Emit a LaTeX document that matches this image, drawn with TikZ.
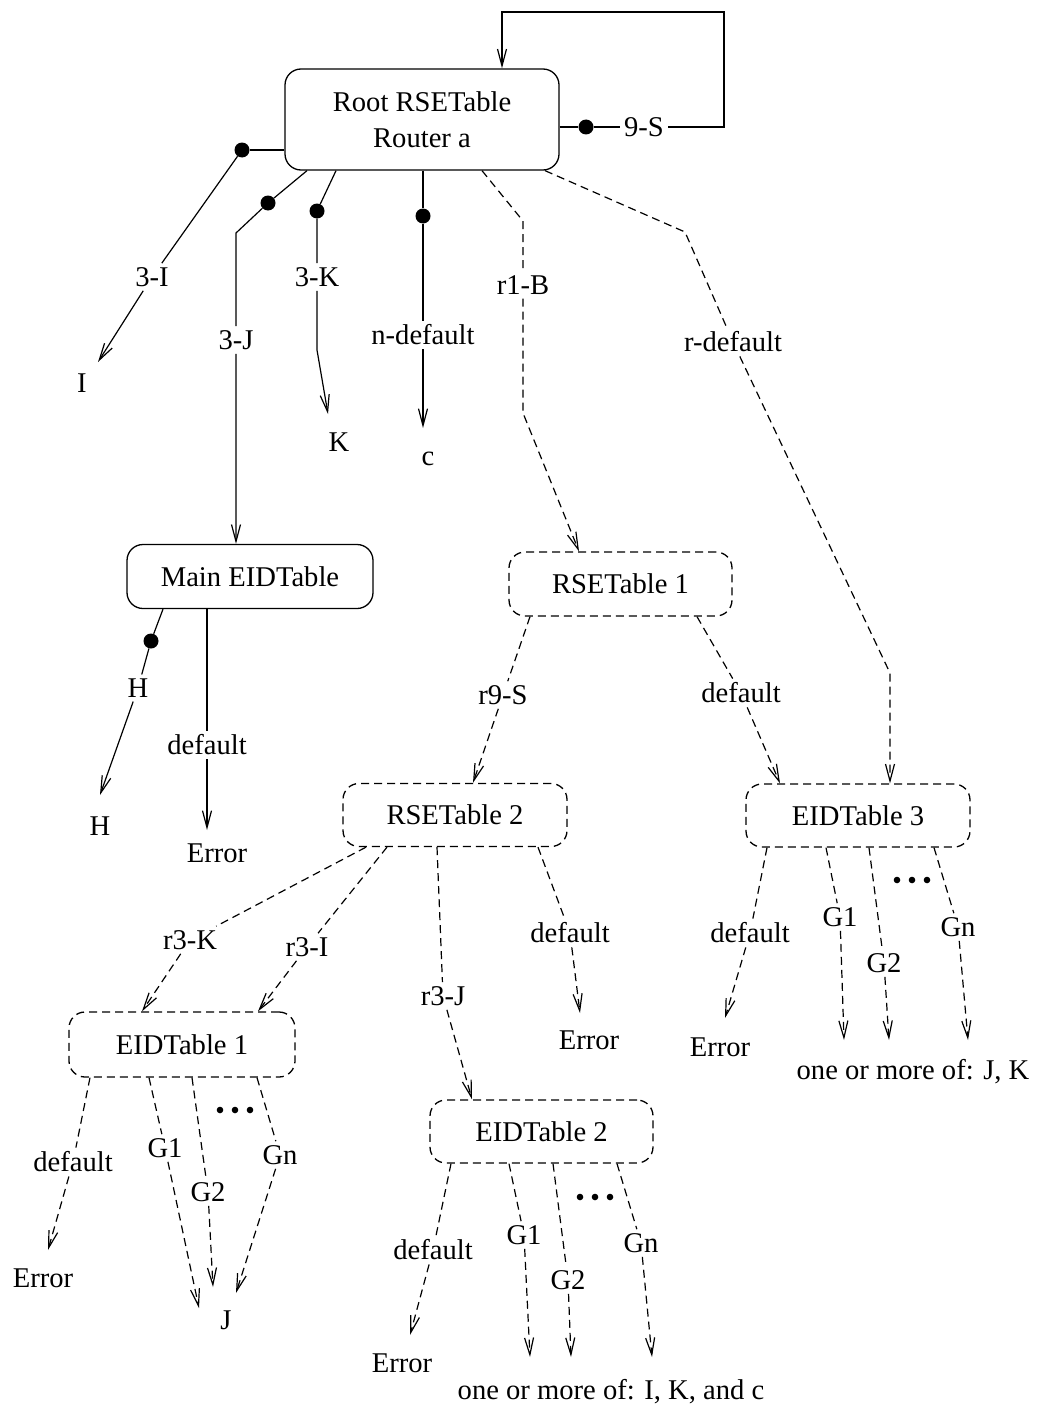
\documentclass[tikz,border=0pt]{standalone}
\usepackage{fontspec}
\setmainfont{Liberation Serif}
\usetikzlibrary{arrows.meta}
\begin{document}
\begin{tikzpicture}[x=1pt,y=-1pt,
  every node/.style={font=\fontsize{28.6}{36}\selectfont},
  tbl/.style={draw,rounded corners=16pt,line width=1.3pt,minimum height=63pt,inner sep=0pt},
  solidtbl/.style={tbl},
  dashtbl/.style={tbl,dash pattern=on 8pt off 5pt},
  lbl/.style={inner sep=4pt},
  term/.style={inner sep=2pt},
  knob/.style={circle,fill=black,minimum size=15pt,inner sep=0pt},
  con/.style={line width=1.2pt},
  dcon/.style={con,dash pattern=on 8pt off 5pt},
  tip/.style={-{Straight Barb[length=17pt,width=9pt,line width=1.2pt]}},
]
\useasboundingbox (0,0) rectangle (1040,1410);

% ---------- tables ----------
\node[solidtbl,minimum width=274pt,minimum height=101pt,align=center] (root) at (422,119.5) {Root RSETable\\Router a};
\node[solidtbl,minimum width=246pt,minimum height=64pt] (mainEID) at (250,576.5) {Main EIDTable};
\node[dashtbl,minimum width=223pt,minimum height=64pt] (rse1) at (620.5,584) {RSETable 1};
\node[dashtbl,minimum width=224pt] (rse2) at (455,815) {RSETable 2};
\node[dashtbl,minimum width=224pt] (eid3) at (858,815.5) {EIDTable 3};
\node[dashtbl,minimum width=226pt,minimum height=65pt] (eid1) at (182,1044.5) {EIDTable 1};
\node[dashtbl,minimum width=223pt] (eid2) at (541.5,1131.5) {EIDTable 2};

% ---------- end points ----------
\node[term] (tI) at (82,383) {I};
\node[term] (tK) at (339,442) {K};
\node[term] (tc) at (428,459) {c};
\node[term] (tH) at (100,826) {H};
\node[term] (errMain) at (217,853) {Error};
\node[term] (err3) at (720,1047) {Error};
\node[term] (jk) at (913,1072) {one or more of: J, K};
\node[term] (errR2) at (589,1040) {Error};
\node[term] (err1) at (43,1278) {Error};
\node[term] (tJ) at (226,1320) {J};
\node[term] (err2) at (402,1363) {Error};
\node[term] (ikc) at (611,1392) {one or more of: I, K, and c};

% ---------- edge labels ----------
\node[lbl] (l9S) at (644,127) {9-S};
\node[lbl] (l3I) at (152,277) {3-I};
\node[lbl] (l3J) at (236,340) {3-J};
\node[lbl] (l3K) at (317,277) {3-K};
\node[lbl] (lnd) at (423,335) {n-default};
\node[lbl] (lr1B) at (523,285) {r1-B};
\node[lbl] (lrdef) at (733,342) {r-default};
\node[lbl] (lH) at (138,688) {H};
\node[lbl] (ldefM) at (207,745) {default};
\node[lbl] (lr9S) at (503,695) {r9-S};
\node[lbl] (ldefR1) at (741,693) {default};
\node[lbl] (lr3K) at (190,940) {r3-K};
\node[lbl] (lr3I) at (307,947) {r3-I};
\node[lbl] (lr3J) at (443,996) {r3-J};
\node[lbl] (ldefR2) at (570,933) {default};
\node[lbl] (ldefE3) at (750,933) {default};
\node[lbl] (g1E3) at (840,917) {G1};
\node[lbl] (g2E3) at (884,963) {G2};
\node[lbl] (gnE3) at (958,927) {Gn};
\node[lbl] (ldefE1) at (73,1162) {default};
\node[lbl] (g1E1) at (165,1148) {G1};
\node[lbl] (g2E1) at (208,1192) {G2};
\node[lbl] (gnE1) at (280,1155) {Gn};
\node[lbl] (ldefE2) at (433,1250) {default};
\node[lbl] (g1E2) at (524,1235) {G1};
\node[lbl] (g2E2) at (568,1280) {G2};
\node[lbl] (gnE2) at (641,1243) {Gn};

% ---------- knobs on the solid branches ----------
\node[knob] (k9S) at (586,127) {};
\node[knob] (k3I) at (242,150) {};
\node[knob] (k3J) at (268,203) {};
\node[knob] (k3K) at (317,211) {};
\node[knob] (knd) at (423,216) {};
\node[knob] (kH) at (151,641) {};

% ---------- arrow tip positions ----------
\coordinate (aI) at (98,362);
\coordinate (aK) at (328,414);
\coordinate (ac) at (423,428);
\coordinate (aH) at (100,795);
\coordinate (aErrMain) at (207,830);
\coordinate (aErrR2) at (580,1013);
\coordinate (aErr3) at (725,1018);
\coordinate (aG1E3) at (844,1040);
\coordinate (aG2E3) at (889,1040);
\coordinate (aGnE3) at (968,1040);
\coordinate (aErr1) at (48,1250);
\coordinate (aG1E1) at (199,1308);
\coordinate (aG2E1) at (213,1287);
\coordinate (aGnE1) at (236,1293);
\coordinate (aErr2) at (410,1335);
\coordinate (aG1E2) at (530,1357);
\coordinate (aG2E2) at (571,1357);
\coordinate (aGnE2) at (652,1357);

% ---------- root: solid branches ----------
\draw[con] (root.east |- k9S) -- (k9S);
\draw[con,tip] (k9S) -- (l9S) -- (724,127) -- (724,12) -- (502,12) -- (502,0 |- root.north);
\draw[con] (root.west |- k3I) -- (k3I);
\draw[con,tip] (k3I) -- (l3I) -- (aI);
\draw[con] (307,0 |- root.south) -- (k3J);
\draw[con,tip] (k3J) -- (236,233) -- (l3J) -- (236,0 |- mainEID.north);
\draw[con] (336,0 |- root.south) -- (k3K);
\draw[con,tip] (k3K) -- (l3K) -- (317,350) -- (aK);
\draw[con] (knd |- root.south) -- (knd);
\draw[con,tip] (knd) -- (lnd) -- (ac);

% ---------- root: dashed branches ----------
\draw[dcon,tip] (482,0 |- root.south) -- (523,221) -- (lr1B) -- (523,413) -- (579,0 |- rse1.north);
\draw[dcon,tip] (545,0 |- root.south) -- (685,232) -- (lrdef) -- (890,673) -- (890,0 |- eid3.north);

% ---------- Main EIDTable ----------
\draw[con] (163,0 |- mainEID.south) -- (kH);
\draw[con,tip] (kH) -- (lH) -- (aH);
\draw[con,tip] (207,0 |- mainEID.south) -- (ldefM) -- (aErrMain);

% ---------- RSETable 1 ----------
\draw[dcon,tip] (530,0 |- rse1.south) -- (lr9S) -- (473,0 |- rse2.north);
\draw[dcon,tip] (697,0 |- rse1.south) -- (ldefR1) -- (780,0 |- eid3.north);

% ---------- RSETable 2 ----------
\draw[dcon,tip] (366,0 |- rse2.south) -- (lr3K) -- (142,0 |- eid1.north);
\draw[dcon,tip] (387,0 |- rse2.south) -- (lr3I) -- (258,0 |- eid1.north);
\draw[dcon,tip] (437,0 |- rse2.south) -- (lr3J) -- (472,0 |- eid2.north);
\draw[dcon,tip] (538,0 |- rse2.south) -- (ldefR2) -- (aErrR2);

% ---------- EIDTable 3 ----------
\draw[dcon,tip] (767,0 |- eid3.south) -- (ldefE3) -- (aErr3);
\draw[dcon,tip] (826,0 |- eid3.south) -- (g1E3) -- (aG1E3);
\draw[dcon,tip] (869,0 |- eid3.south) -- (g2E3) -- (aG2E3);
\draw[dcon,tip] (934,0 |- eid3.south) -- (gnE3) -- (aGnE3);
\foreach \dx in {-15,0,15} \fill (912+\dx,880) circle (3.3pt);

% ---------- EIDTable 1 ----------
\draw[dcon,tip] (90,0 |- eid1.south) -- (ldefE1) -- (aErr1);
\draw[dcon,tip] (149,0 |- eid1.south) -- (g1E1) -- (aG1E1);
\draw[dcon,tip] (192,0 |- eid1.south) -- (g2E1) -- (aG2E1);
\draw[dcon,tip] (257,0 |- eid1.south) -- (gnE1) -- (aGnE1);
\foreach \dx in {-15,0,15} \fill (235+\dx,1110) circle (3.3pt);

% ---------- EIDTable 2 ----------
\draw[dcon,tip] (451,0 |- eid2.south) -- (ldefE2) -- (aErr2);
\draw[dcon,tip] (509,0 |- eid2.south) -- (g1E2) -- (aG1E2);
\draw[dcon,tip] (553,0 |- eid2.south) -- (g2E2) -- (aG2E2);
\draw[dcon,tip] (617,0 |- eid2.south) -- (gnE2) -- (aGnE2);
\foreach \dx in {-15,0,15} \fill (595+\dx,1197) circle (3.3pt);
\end{tikzpicture}
\end{document}
